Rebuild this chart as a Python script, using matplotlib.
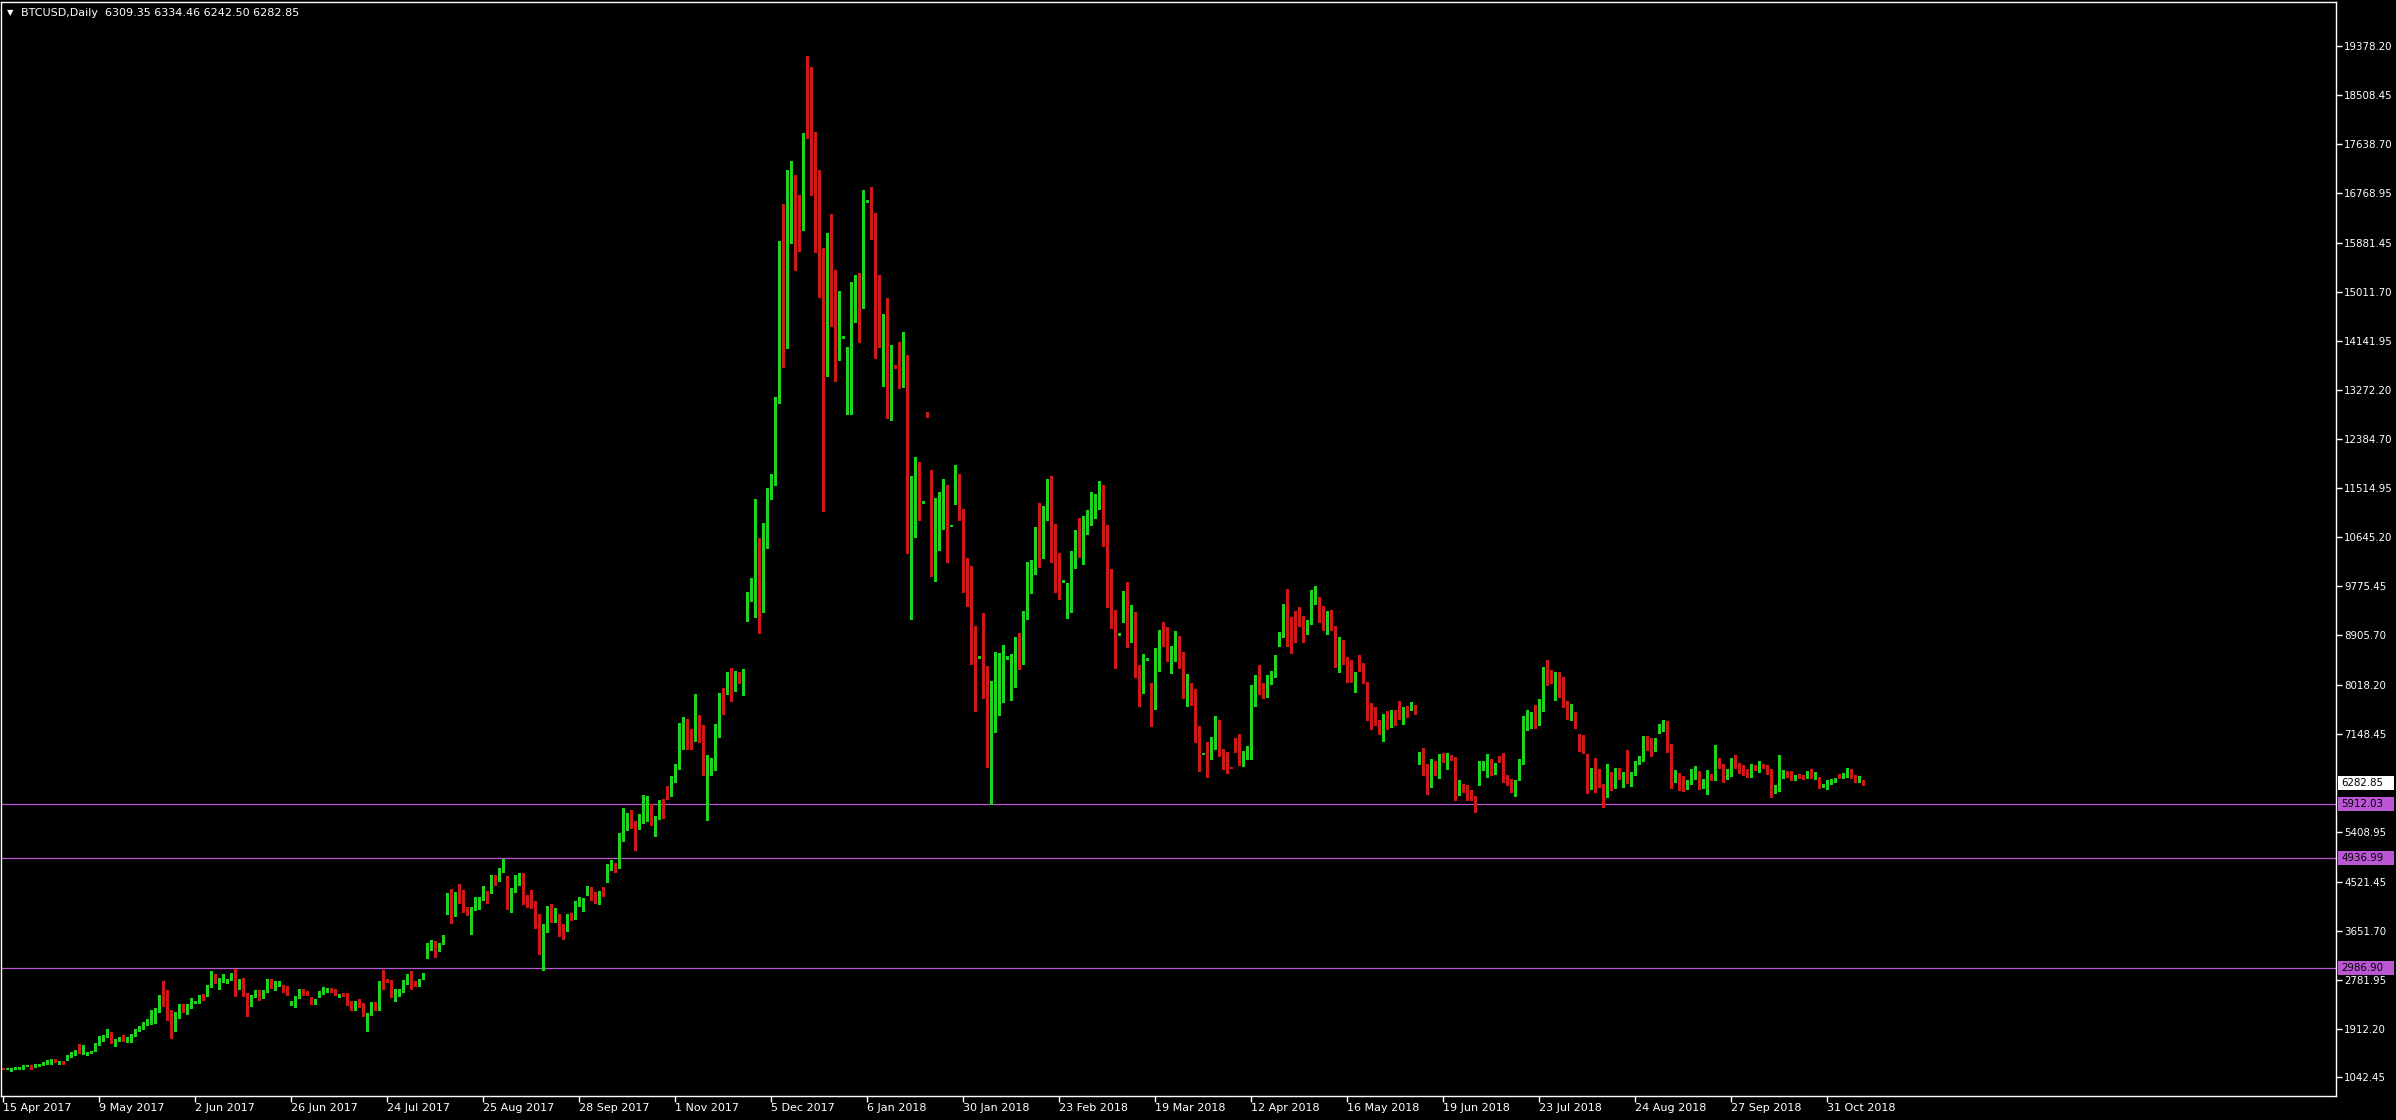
import matplotlib
matplotlib.use('Agg')
import matplotlib.pyplot as plt
from matplotlib.patches import Rectangle
import numpy as np

# daily BTCUSD candles (15 Apr 2017 .. Nov 2018)
opens = [
    1205, 1190, 1170, 1190, 1205, 1205, 1245, 1255, 1250, 1243,
    1266, 1278, 1296, 1361, 1296, 1326, 1349, 1408, 1438, 1538,
    1473, 1444, 1473, 1526, 1627, 1698, 1775, 1822, 1645, 1692,
    1798, 1704, 1733, 1787, 1875, 1904, 1994, 2005, 2129, 2218,
    2460, 2425, 2159, 1928, 2112, 2336, 2265, 2289, 2380, 2372,
    2502, 2502, 2655, 2886, 2732, 2750, 2726, 2779, 2939, 2620,
    2708, 2543, 2342, 2484, 2567, 2466, 2572, 2779, 2690, 2679,
    2679, 2579, 2348, 2354, 2460, 2584, 2567, 2460, 2354, 2484,
    2549, 2567, 2620, 2602, 2484, 2537, 2543, 2390, 2318, 2395,
    2354, 1869, 2159, 2372, 2242, 2744, 2797, 2762, 2484, 2502,
    2572, 2708, 2886, 2750, 2679, 2791, 3246, 3311, 3453, 3341,
    3417, 3979, 4251, 4062, 4340, 4322, 4068, 3990, 4062, 4109,
    4209, 4352, 4322, 4582, 4546, 4700, 4517, 4233, 4393, 4535,
    4570, 4269, 4180, 4180, 3896, 3382, 3678, 4002, 3890, 3949,
    3648, 3648, 3932, 3896, 4115, 4150, 4304, 4393, 4286, 4180,
    4357, 4552, 4818, 4853, 4800, 5279, 5474, 5669, 5563, 5492,
    5669, 5829, 5900, 5563, 5652, 5846, 6167, 6077, 6325, 6538,
    7004, 7315, 7107, 7034, 7251, 7107, 5894, 6456, 6582, 7270,
    7867, 7984, 8219, 8092, 8183, 8119, 9178, 9594, 9902, 10155,
    9649, 10833, 11403, 11702, 13131, 15583, 14036, 16867, 16931, 16397,
    16207, 18740, 18595, 16985, 16162, 15637, 13602, 15773, 15085, 13819,
    14190, 12914, 13430, 14678, 14958, 14796, 16610, 16786, 16098, 14868,
    14430, 14418, 13385, 13690, 14109, 13341, 13879, 10712, 11286, 11551,
    11270, 12860, 11286, 10271, 10915, 11180, 11198, 10850, 11480, 11736,
    11145, 10033, 9918, 9063, 8510, 9107, 8040, 7052, 7740, 8022,
    8110, 8500, 8250, 8243, 8789, 8490, 9213, 9786, 10006, 10801,
    10712, 10977, 11648, 10263, 9880, 9860, 9451, 9540, 10333, 10686,
    10483, 10880, 10960, 11224, 11198, 11502, 10740, 9883, 9268, 8920,
    9180, 9605, 8955, 9020, 8276, 8216, 8482, 7815, 7608, 8376,
    8878, 8860, 8550, 8547, 8878, 8541, 7820, 7933, 7850, 7070,
    6795, 6857, 6833, 6886, 7354, 6792, 6715, 6555, 6970, 6910,
    6609, 6786, 6840, 7667, 8276, 7992, 7862, 8146, 8234, 8867,
    8896, 9428, 9127, 9067, 9286, 9197, 9020, 9180, 9605, 9499,
    9357, 9162, 9215, 9073, 8630, 8719, 8453, 8276, 8080, 8542,
    8382, 8080, 7549, 7525, 7289, 7182, 7478, 7300, 7507, 7690,
    7478, 7608, 7590, 7631, 6698, 6751, 6503, 6237, 6627, 6455,
    6715, 6668, 6733, 6715, 6148, 6254, 6183, 6113, 6041, 6313,
    6602, 6562, 6662, 6491, 6715, 6680, 6384, 6343, 6160, 6343,
    6627, 7300, 7300, 7424, 7495, 7690, 8205, 8205, 8045, 8187,
    8116, 7673, 7460, 7530, 7052, 6893, 6680, 6290, 6556, 6325,
    6254, 6059, 6343, 6219, 6502, 6420, 6343, 6343, 6432, 6644,
    6680, 7070, 7017, 6893, 7247, 7265, 7336, 6910, 6396, 6378,
    6290, 6219, 6272, 6432, 6485, 6225, 6290, 6414, 6349, 6662,
    6609, 6366, 6467, 6698, 6556, 6538, 6520, 6414, 6538, 6502,
    6609, 6556, 6520, 6189, 6189, 6396, 6449, 6432, 6380, 6432,
    6414, 6410, 6432, 6400, 6378, 6219, 6243, 6278, 6313, 6410,
    6384, 6402, 6485, 6414, 6300, 6309.35,
]
highs = [
    1210, 1210, 1210, 1230, 1230, 1270, 1265, 1260, 1275, 1275,
    1310, 1350, 1365, 1365, 1330, 1330, 1440, 1500, 1525, 1645,
    1627, 1500, 1505, 1650, 1787, 1800, 1910, 1852, 1720, 1770,
    1805, 1765, 1815, 1900, 1960, 2025, 2082, 2247, 2275, 2502,
    2761, 2602, 2242, 2212, 2340, 2340, 2348, 2454, 2390, 2510,
    2531, 2680, 2933, 2890, 2809, 2886, 2800, 2898, 2968, 2797,
    2815, 2545, 2500, 2602, 2602, 2590, 2797, 2785, 2750, 2755,
    2685, 2661, 2395, 2485, 2610, 2608, 2575, 2465, 2440, 2575,
    2649, 2630, 2630, 2610, 2535, 2545, 2548, 2395, 2395, 2437,
    2360, 2190, 2380, 2380, 2750, 2945, 2800, 2770, 2620, 2610,
    2770, 2890, 2939, 2755, 2795, 2895, 3435, 3482, 3460, 3425,
    3580, 4322, 4393, 4345, 4481, 4375, 4070, 4080, 4251, 4245,
    4446, 4355, 4641, 4647, 4765, 4919, 4623, 4415, 4641, 4670,
    4670, 4280, 4369, 4185, 3943, 3772, 4091, 4127, 4050, 3955,
    3772, 3940, 3967, 4180, 4257, 4233, 4446, 4428, 4339, 4363,
    4428, 4845, 4907, 4860, 5386, 5829, 5740, 5793, 5598, 5722,
    6059, 6042, 5905, 5687, 5971, 5989, 6219, 6396, 6609, 7336,
    7450, 7415, 7233, 7867, 7478, 7315, 6781, 6727, 7320, 7875,
    7975, 8246, 8328, 8273, 8246, 8310, 9676, 9925, 11331, 10625,
    10897, 11530, 11774, 13135, 15918, 16569, 17184, 17338, 17093, 16732,
    17835, 19201, 19011, 17853, 17184, 15782, 16053, 16397, 15402, 15031,
    14230, 14036, 15176, 15302, 15348, 16822, 16640, 16876, 16415, 15300,
    14620, 14903, 14073, 13700, 14115, 14303, 13890, 11727, 12080, 11992,
    11290, 12880, 11842, 11348, 11445, 11683, 11568, 10870, 11930, 11771,
    11150, 10271, 10139, 9070, 8530, 9301, 8366, 8084, 8613, 8596,
    8728, 8530, 8569, 8878, 8948, 9337, 10201, 10245, 10830, 11260,
    11198, 11683, 11736, 10889, 10360, 9880, 9830, 10404, 10783, 10995,
    11021, 11127, 11445, 11418, 11650, 11573, 10864, 10078, 9357, 8940,
    9694, 9854, 9446, 9316, 8382, 8571, 8500, 8063, 8677, 8996,
    9144, 9056, 8719, 8984, 8885, 8612, 8222, 8057, 7957, 7283,
    6810, 7000, 7094, 7460, 7401, 6881, 6822, 6560, 7070, 7141,
    6845, 6928, 8027, 8205, 8382, 8057, 8199, 8276, 8553, 8967,
    9458, 9730, 9233, 9339, 9410, 9251, 9168, 9712, 9783, 9576,
    9428, 9339, 9357, 9073, 8866, 8825, 8512, 8471, 8252, 8559,
    8406, 8080, 7702, 7637, 7401, 7507, 7555, 7578, 7578, 7744,
    7637, 7649, 7726, 7673, 6822, 6893, 6621, 6697, 6668, 6786,
    6816, 6804, 6769, 6733, 6325, 6266, 6242, 6160, 6053, 6662,
    6668, 6786, 6710, 6627, 6757, 6804, 6414, 6350, 6325, 6698,
    7460, 7584, 7531, 7673, 7779, 8346, 8471, 8293, 8258, 8252,
    8169, 7744, 7690, 7535, 7141, 7123, 6786, 6538, 6715, 6520,
    6260, 6609, 6467, 6538, 6538, 6467, 6857, 6467, 6662, 6751,
    7105, 7105, 7070, 7070, 7318, 7389, 7371, 6964, 6502, 6450,
    6396, 6325, 6520, 6573, 6490, 6349, 6502, 6432, 6946, 6715,
    6615, 6520, 6715, 6769, 6627, 6591, 6525, 6609, 6591, 6662,
    6615, 6591, 6525, 6242, 6769, 6502, 6485, 6485, 6420, 6437,
    6420, 6485, 6520, 6467, 6385, 6266, 6331, 6340, 6366, 6437,
    6455, 6538, 6520, 6420, 6402, 6334.46,
]
lows = [
    1190, 1185, 1165, 1185, 1200, 1200, 1240, 1200, 1225, 1240,
    1260, 1275, 1290, 1310, 1290, 1290, 1345, 1400, 1435, 1485,
    1465, 1440, 1470, 1520, 1620, 1690, 1770, 1650, 1597, 1685,
    1690, 1668, 1668, 1780, 1870, 1900, 1970, 2000, 2005, 2210,
    2318, 2058, 1739, 1863, 2100, 2212, 2170, 2280, 2375, 2365,
    2413, 2495, 2645, 2720, 2608, 2740, 2720, 2770, 2484, 2610,
    2484, 2129, 2307, 2480, 2425, 2460, 2565, 2630, 2590, 2675,
    2560, 2500, 2330, 2289, 2455, 2508, 2500, 2355, 2345, 2480,
    2530, 2560, 2560, 2505, 2478, 2495, 2336, 2247, 2235, 2300,
    2140, 1860, 2150, 2240, 2235, 2620, 2740, 2470, 2395, 2495,
    2565, 2700, 2608, 2675, 2675, 2785, 3175, 3300, 3193, 3282,
    3410, 3949, 3796, 3914, 4150, 3979, 3937, 3601, 4020, 4044,
    4200, 4150, 4315, 4469, 4540, 4695, 4038, 3991, 4345, 4464,
    4127, 4080, 4062, 3707, 3240, 2957, 3630, 3808, 3808, 3559,
    3506, 3640, 3843, 3860, 4091, 4002, 4286, 4198, 4145, 4127,
    4269, 4517, 4730, 4688, 4765, 5244, 5439, 5474, 5084, 5456,
    5563, 5598, 5527, 5333, 5634, 5652, 5989, 6041, 6290, 6520,
    6890, 6890, 6890, 7030, 6998, 6420, 5622, 6420, 6510, 7098,
    7505, 7867, 7731, 7912, 8047, 7840, 9151, 9513, 9223, 8952,
    9314, 10463, 11331, 11575, 13041, 13674, 14018, 15872, 15393, 15737,
    16116, 17745, 16732, 15709, 14922, 11105, 13520, 14398, 13430, 13792,
    14180, 12842, 12842, 14470, 14109, 14717, 16600, 15950, 13837, 14036,
    13341, 12768, 12724, 13660, 13300, 13315, 10360, 9187, 10651, 10960,
    11260, 12790, 9963, 9875, 10421, 10801, 10201, 10840, 11242, 10960,
    9672, 9433, 8401, 7564, 8500, 7784, 6567, 5896, 7184, 7493,
    7713, 8490, 7758, 7978, 8313, 8401, 9187, 9654, 9990, 10113,
    10271, 10960, 10201, 9672, 9548, 9850, 9213, 9319, 10095, 10298,
    10165, 10712, 10871, 10995, 11150, 10492, 9398, 9026, 8317, 8910,
    9144, 8689, 8778, 8157, 7643, 7874, 8470, 7288, 7600, 8264,
    8707, 8453, 8228, 8453, 8317, 7785, 7655, 7673, 7000, 6491,
    6790, 6384, 6698, 6880, 6760, 6526, 6455, 6540, 6828, 6600,
    6585, 6698, 6698, 7655, 7862, 7785, 7815, 8039, 8169, 8719,
    8867, 8719, 8595, 8778, 9073, 8778, 8932, 9109, 9463, 9132,
    9002, 8932, 9002, 8335, 8246, 8394, 8069, 8069, 7891, 8264,
    8057, 7389, 7236, 7312, 7153, 7023, 7235, 7271, 7300, 7407,
    7324, 7448, 7578, 7496, 6615, 6420, 6083, 6207, 6420, 6367,
    6644, 6526, 6680, 5970, 6065, 6118, 5982, 5970, 5764, 6242,
    6502, 6384, 6414, 6438, 6644, 6296, 6242, 6118, 6047, 6325,
    6609, 7212, 7247, 7247, 7300, 7566, 8027, 8063, 7761, 7814,
    7620, 7407, 7389, 7247, 6840, 6804, 6100, 6172, 6118, 6207,
    5852, 6030, 6148, 6189, 6343, 6207, 6278, 6219, 6414, 6609,
    6662, 6857, 6751, 6839, 7158, 7194, 6822, 6189, 6290, 6148,
    6130, 6172, 6254, 6343, 6172, 6189, 6083, 6325, 6331, 6538,
    6296, 6349, 6396, 6538, 6449, 6420, 6378, 6378, 6502, 6467,
    6538, 6432, 6030, 6100, 6136, 6366, 6378, 6331, 6331, 6360,
    6349, 6366, 6360, 6349, 6189, 6207, 6172, 6260, 6296, 6360,
    6366, 6384, 6366, 6296, 6296, 6242.50,
]
closes = [
    1195, 1205, 1205, 1225, 1225, 1260, 1255, 1237, 1255, 1272,
    1302, 1332, 1361, 1314, 1326, 1296, 1432, 1455, 1520, 1490,
    1538, 1497, 1503, 1645, 1715, 1793, 1828, 1704, 1715, 1733,
    1698, 1757, 1810, 1893, 1952, 2017, 2035, 2141, 2229, 2460,
    2401, 2289, 1934, 2005, 2336, 2265, 2301, 2425, 2386, 2502,
    2466, 2673, 2886, 2732, 2767, 2832, 2797, 2856, 2608, 2708,
    2537, 2342, 2496, 2567, 2431, 2585, 2779, 2673, 2696, 2726,
    2567, 2508, 2390, 2478, 2602, 2549, 2508, 2360, 2431, 2567,
    2590, 2626, 2567, 2513, 2531, 2502, 2372, 2318, 2390, 2330,
    2147, 2182, 2372, 2247, 2744, 2625, 2750, 2478, 2513, 2602,
    2761, 2886, 2738, 2679, 2791, 2856, 3347, 3453, 3341, 3417,
    3577, 4251, 4062, 4340, 4316, 3985, 3985, 4074, 4133, 4239,
    4322, 4322, 4588, 4552, 4730, 4871, 4251, 4410, 4552, 4570,
    4215, 4162, 4162, 3878, 3382, 3719, 4002, 3878, 3949, 3630,
    3595, 3932, 3896, 4145, 4162, 4180, 4393, 4269, 4180, 4357,
    4322, 4836, 4853, 4800, 5297, 5598, 5669, 5545, 5492, 5687,
    5953, 5900, 5563, 5669, 5829, 5722, 6059, 6343, 6556, 7017,
    7215, 7088, 7044, 7251, 7088, 6583, 6465, 6600, 7279, 7867,
    7686, 8219, 8092, 8183, 8138, 8210, 9603, 9920, 10210, 9649,
    10843, 11412, 11692, 13131, 15583, 15519, 16876, 16931, 16388, 16216,
    17301, 18586, 16976, 16153, 15610, 14099, 15773, 15022, 13828, 14199,
    14220, 13909, 14696, 14958, 14796, 16659, 16630, 16053, 14858, 14435,
    14450, 13385, 13694, 13675, 13315, 13879, 10695, 11303, 11551, 11268,
    11280, 12800, 10271, 10933, 11180, 11190, 10845, 10860, 11736, 11127,
    10006, 9901, 9019, 8507, 8520, 8005, 7052, 7757, 8040, 8128,
    8507, 8515, 8270, 8789, 8490, 9257, 9813, 10024, 10818, 10730,
    11004, 11648, 10245, 9875, 9870, 9870, 9540, 10333, 10686, 10483,
    10889, 10960, 11224, 11348, 11560, 10728, 9883, 9257, 8938, 8930,
    9605, 8955, 9020, 8246, 8216, 8482, 8490, 7608, 8400, 8878,
    8843, 8547, 8555, 8878, 8536, 7820, 7933, 7832, 7052, 6792,
    6800, 6822, 6898, 7371, 6774, 6697, 6550, 6550, 6893, 6615,
    6804, 6839, 7690, 7868, 7950, 7862, 8163, 8216, 8506, 8896,
    9428, 9026, 9062, 8926, 9233, 8973, 9144, 9623, 9658, 9393,
    9115, 9233, 9056, 8406, 8825, 8494, 8258, 8169, 8205, 8364,
    8080, 7554, 7513, 7407, 7194, 7478, 7300, 7525, 7407, 7496,
    7602, 7590, 7643, 7614, 6751, 6509, 6225, 6644, 6473, 6715,
    6668, 6733, 6697, 6047, 6237, 6148, 6101, 6030, 5894, 6609,
    6610, 6680, 6491, 6556, 6680, 6366, 6325, 6154, 6172, 6644,
    7300, 7336, 7407, 7318, 7690, 8205, 8152, 8098, 8222, 8116,
    7655, 7442, 7530, 7354, 6875, 6840, 6290, 6503, 6254, 6254,
    6059, 6360, 6219, 6467, 6414, 6432, 6290, 6396, 6591, 6715,
    7070, 6999, 6875, 7017, 7283, 7336, 6910, 6414, 6432, 6272,
    6219, 6290, 6449, 6520, 6189, 6307, 6396, 6349, 6698, 6591,
    6366, 6485, 6680, 6609, 6520, 6502, 6402, 6538, 6532, 6609,
    6562, 6502, 6189, 6225, 6396, 6449, 6414, 6360, 6387, 6396,
    6378, 6420, 6378, 6410, 6225, 6260, 6290, 6331, 6349, 6400,
    6420, 6502, 6414, 6313, 6307, 6282.85,
]

date_labels = ['15 Apr 2017', '9 May 2017', '2 Jun 2017', '26 Jun 2017', '24 Jul 2017',
               '25 Aug 2017', '28 Sep 2017', '1 Nov 2017', '5 Dec 2017', '6 Jan 2018',
               '30 Jan 2018', '23 Feb 2018', '19 Mar 2018', '12 Apr 2018', '16 May 2018',
               '19 Jun 2018', '23 Jul 2018', '24 Aug 2018', '27 Sep 2018', '31 Oct 2018']
bars_per_label = 24

price_ticks = [19378.20, 18508.45, 17638.70, 16768.95, 15881.45, 15011.70, 14141.95,
               13272.20, 12384.70, 11514.95, 10645.20, 9775.45, 8905.70, 8018.20,
               7148.45, 5408.95, 4521.45, 3651.70, 2781.95, 1912.20, 1042.45]
levels = [5912.03, 4936.99, 2986.90]
header = 'BTCUSD,Daily  6309.35 6334.46 6242.50 6282.85'

UP = '#1ed41e'
DOWN = '#d01818'
LEVEL = '#ba55d3'

W, H = 2396, 1120
fig = plt.figure(figsize=(W / 100, H / 100), dpi=100, facecolor='black')
ax = fig.add_axes([1 / W, 24 / H, 2335 / W, 1094 / H], facecolor='black')

o = np.array(opens, dtype=float)
h = np.array(highs, dtype=float)
l = np.array(lows, dtype=float)
c = np.array(closes, dtype=float)
x = np.arange(len(o))
colors = np.where(c >= o, UP, DOWN)

ymin, ymax = 713, 20162
ppx = (ymax - ymin) / 1094.0   # price per pixel

ax.vlines(x, l, h, colors=colors, linewidth=0.75, antialiased=False, zorder=2)
body = np.maximum(np.abs(c - o), ppx)
ax.bar(x, body, bottom=np.minimum(o, c), width=0.75, color=colors,
       linewidth=0, antialiased=False, zorder=3)

for lv in levels:
    ax.axhline(lv, color=LEVEL, linewidth=0.9, zorder=1)

ax.set_xlim(-0.575, 583.2)
ax.set_ylim(ymin, ymax)

for s in ax.spines.values():
    s.set_color('white')
    s.set_linewidth(1)

ax.yaxis.tick_right()
ax.set_yticks(price_ticks)
ax.set_yticklabels([f'{v:.2f}' for v in price_ticks])
ax.tick_params(axis='y', colors='white', length=4, width=1, pad=2, labelsize=7.4)

ax.set_xticks(np.arange(len(date_labels)) * bars_per_label)
ax.set_xticklabels(date_labels)
ax.tick_params(axis='x', colors='white', length=4, width=1, pad=1, labelsize=8)
for t in ax.get_xticklabels():
    t.set_ha('left')

# price boxes on the right scale
tr = ax.get_yaxis_transform()
box_x0 = 1.0007
box_w = (2394 - 1 - 1.0007 * 2335) / 2335
def price_box(val, fc):
    ax.add_patch(Rectangle((box_x0, val - 7 * ppx), box_w, 14 * ppx, transform=tr,
                           facecolor=fc, edgecolor='none', clip_on=False, zorder=5))
    ax.text(1 + 5 / 2335, val, f'{val:.2f}', transform=tr, ha='left', va='center',
            fontsize=7.4, color='black', clip_on=False, zorder=6)

price_box(closes[-1], 'white')
for lv in levels:
    price_box(lv, LEVEL)

fig.text(7 / W, 1 - 13 / H, '\u25bc', color='white', fontsize=6, ha='left', va='center')
fig.text(21 / W, 1 - 13 / H, header, color='white', fontsize=8, ha='left', va='center')

fig.savefig('out.png', dpi=100, facecolor='black')
